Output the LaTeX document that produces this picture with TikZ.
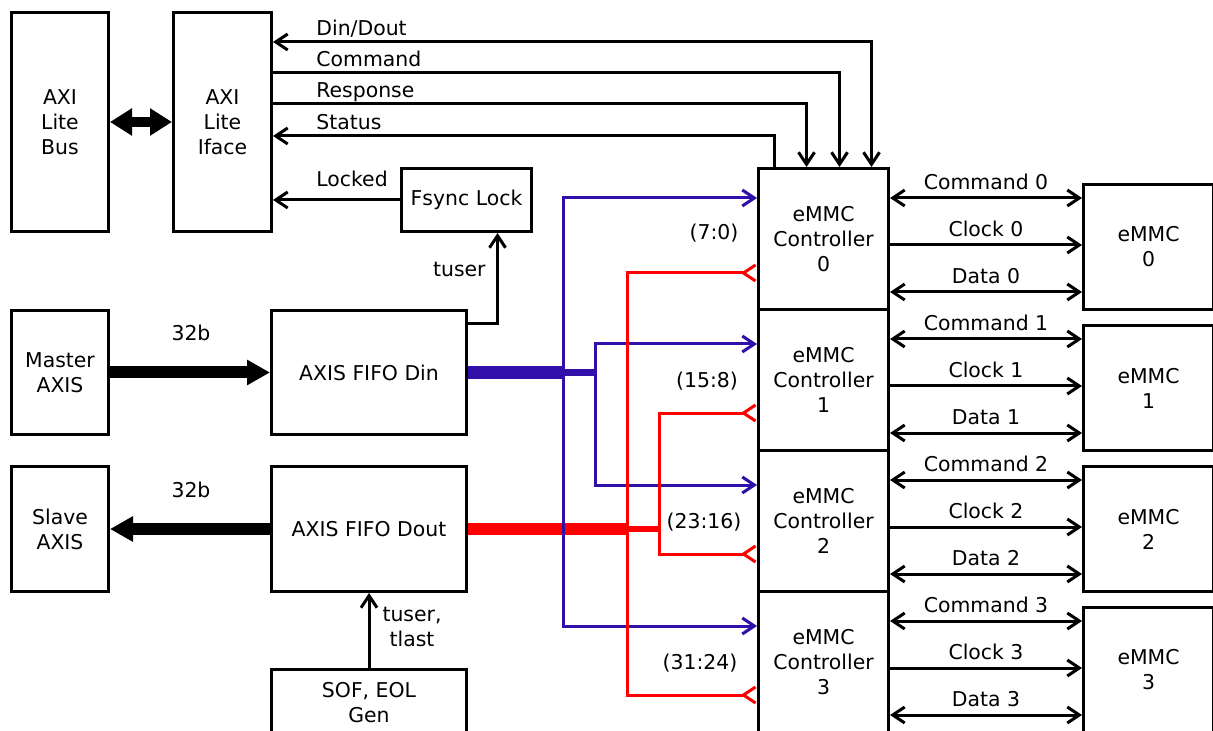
\documentclass[tikz,border=0pt]{standalone}
\usepackage{fontspec}
\setmainfont{DejaVu Sans}
\usetikzlibrary{arrows.meta,calc}
\definecolor{busblue}{RGB}{48,16,168}

\begin{document}
\begin{tikzpicture}[x=0.5pt,y=-0.5pt,
		every node/.style={font=\fontsize{10.2}{12.5}\selectfont},
		box/.style={draw,line width=1.5pt,inner sep=2pt,align=center,anchor=north west},
		lbl/.style={inner sep=0pt},
		sig/.style={line width=1.5pt},
		fat/.style={line width=6pt,-{Triangle[length=11.5pt,width=12pt]}},
		bsig/.style={line width=1.5pt,color=busblue},
		rsig/.style={line width=1.5pt,color=red},
		>={Straight Barb[length=6pt,width=8pt]}]
				\useasboundingbox (0,0) rectangle (1213,731);
				% blocks on the left
				\node[box,minimum width=48.5pt,minimum height=109.5pt] (bus) at (10,11) {AXI\\Lite\\Bus};
				\node[box,minimum width=49pt,minimum height=109.5pt] (iface) at (172,11) {AXI\\Lite\\Iface};
				\node[box,minimum width=65pt,minimum height=31.5pt] (fsync) at (400,167) {Fsync Lock};
				\node[box,minimum width=48.5pt,minimum height=62pt] (master) at (10,309) {Master\\AXIS};
				\node[box,minimum width=97.5pt,minimum height=62pt] (din) at (270,309) {AXIS FIFO Din};
				\node[box,minimum width=48.5pt,minimum height=62.5pt] (slave) at (10,465) {Slave\\AXIS};
				\node[box,minimum width=97.5pt,minimum height=62.5pt] (dout) at (270,465) {AXIS FIFO Dout};
				\node[box,minimum width=97.5pt,minimum height=33pt] (gen) at (270,668) {SOF, EOL\\Gen};
				% controllers and cards
				\foreach \k in {0,...,3}{
					\node[box,minimum width=65pt,minimum height=70.5pt] (ctrl\k) at (757,167+141*\k) {eMMC\\Controller\\\k};
					\node[box,minimum width=65pt,minimum height=62.5pt] (emmc\k) at (1082,183+141*\k) {eMMC\\\k};
					\draw[sig,<->] ($(ctrl\k.north east)+(0,31)$) -- node[above]{Command \k} ($(emmc\k.north west)+(0,15)$);
					\draw[sig,->] ($(ctrl\k.north east)+(0,78)$) -- node[above]{Clock \k} ($(emmc\k.north west)+(0,62)$);
					\draw[sig,<->] ($(ctrl\k.north east)+(0,125)$) -- node[above]{Data \k} ($(emmc\k.north west)+(0,109)$);
				}
				% register interface
				\draw[line width=5pt,{Triangle[length=11pt,width=13pt]}-{Triangle[length=11pt,width=13pt]}] (bus.east) -- (iface.west);
				\draw[sig,<->] (iface.east |- 0,42) -| ($(ctrl0.north)+(48,0)$);
				\draw[sig,->] (iface.east |- 0,73) -| ($(ctrl0.north)+(16,0)$);
				\draw[sig,->] (iface.east |- 0,104) -| ($(ctrl0.north)+(-17,0)$);
				\draw[sig,->] ($(ctrl0.north)+(-49,0)$) |- (iface.east |- 0,136);
				\draw[sig,->] (fsync.west) -- (iface.east |- fsync.west);
				\node[lbl,anchor=base west] at (316,36) {Din/Dout};
				\node[lbl,anchor=base west] at (316,67) {Command};
				\node[lbl,anchor=base west] at (316,98) {Response};
				\node[lbl,anchor=base west] at (316,130) {Status};
				\node[lbl,anchor=base west] at (316,187) {Locked};
				% streams
				\draw[fat] (master.east) -- (din.west);
				\draw[fat] (dout.west) -- (slave.east);
				\node at (191,333) {32b};
				\node at (191,490) {32b};
				\draw[sig,->] ($(din.north east)+(0,15)$) -| ($(fsync.south)+(31,0)$);
				\node[lbl,anchor=base east] at (486,277) {tuser};
				\draw[sig,->] (gen.north) -- (dout.south);
				\node[align=center] at (412,627) {tuser,\\tlast};
				% data bus to controllers
				\coordinate (b0) at (din.east -| 563,0);
				\coordinate (b1) at (din.east -| 595,0);
				\coordinate (r0) at (dout.east -| 627,0);
				\coordinate (r1) at (dout.east -| 659,0);
				\foreach \o in {-4.5,-1.5,1.5,4.5}{
					\draw[bsig,line width=1.6pt] ($(din.east)+(0,\o)$) -- ($(b0)+(0,\o)$);
					\draw[rsig,line width=1.6pt] ($(dout.east)+(0,\o)$) -- ($(r0)+(0,\o)$);
				}
				\foreach \o in {-1.5,1.5}{
					\draw[bsig,line width=1.6pt] ($(b0)+(0,\o)$) -- ($(b1)+(0,\o)$);
					\draw[rsig,line width=1.6pt] ($(r0)+(0,\o)$) -- ($(r1)+(0,\o)$);
				}
				\draw[bsig,->] (b0) |- (ctrl0.west |- 0,198);
				\draw[bsig,->] (b0) |- (ctrl3.west |- 0,626);
				\draw[bsig,->] (b1) |- (ctrl1.west |- 0,344);
				\draw[bsig,->] (b1) |- (ctrl2.west |- 0,485);
				\draw[rsig,-<] (r0) |- (ctrl0.west |- 0,273);
				\draw[rsig,-<] (r0) |- (ctrl3.west |- 0,695);
				\draw[rsig,-<] (r1) |- (ctrl1.west |- 0,413);
				\draw[rsig,-<] (r1) |- (ctrl2.west |- 0,554);
				\node at (714,233) {(7:0)};
				\node at (707,381) {(15:8)};
				\node at (704,522) {(23:16)};
				\node at (700,663) {(31:24)};
		\end{tikzpicture}
\end{document}
